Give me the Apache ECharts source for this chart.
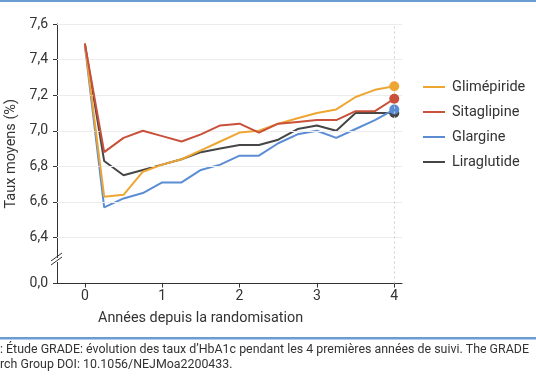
<!DOCTYPE html>
<html><head><meta charset="utf-8">
<script src="https://cdn.jsdelivr.net/npm/echarts@6/dist/echarts.min.js"></script>
<style>html,body{margin:0;padding:0;background:#fff}#c{width:536px;height:386px}</style>
</head><body><div id="c"></div>
<script>
// Years since randomisation (quarterly)
var years = [0,0.25,0.5,0.75,1,1.25,1.5,1.75,2,2.25,2.5,2.75,3,3.25,3.5,3.75,4];
var glimepiride = [7.49,6.63,6.64,6.77,6.81,6.84,6.89,6.94,6.99,7.00,7.04,7.07,7.10,7.12,7.19,7.23,7.25];
var sitaglipine = [7.49,6.88,6.96,7.00,6.97,6.94,6.98,7.03,7.04,6.99,7.04,7.05,7.06,7.06,7.11,7.11,7.18];
var glargine    = [7.48,6.57,6.62,6.65,6.71,6.71,6.78,6.81,6.86,6.86,6.93,6.98,7.00,6.96,7.01,7.06,7.12];
var liraglutide = [7.49,6.83,6.75,6.78,6.81,6.84,6.88,6.90,6.92,6.92,6.95,7.01,7.03,7.00,7.10,7.10,7.10];
var seriesNames = ['Glimépiride','Sitaglipine','Glargine','Liraglutide'];
var yTicks = [6.4,6.6,6.8,7.0,7.2,7.4,7.6];
var yBreakValue = 6.142; // position where "0,0" is drawn (broken axis)
var xTicks = [0,1,2,3,4];
var colors = {'Glimépiride':'#EEA633','Sitaglipine':'#C9503A','Glargine':'#5B8DD5','Liraglutide':'#464646'};

function pairs(arr){ return years.map(function(x,i){ return [x, arr[i]]; }); }
var dataMap = {'Glimépiride':glimepiride,'Sitaglipine':sitaglipine,'Glargine':glargine,'Liraglutide':liraglutide};
var drawOrder = ['Liraglutide','Glargine','Glimépiride','Sitaglipine'];
var FONT = 'Roboto, "Noto Sans", sans-serif';

var series = drawOrder.map(function(n, k){
  return {
    name: n, type: 'line', data: pairs(dataMap[n]),
    color: colors[n],
    lineStyle: {width: 2, color: colors[n]},
    itemStyle: {color: colors[n]},
    symbol: 'circle', showSymbol: true, showAllSymbol: true,
    symbolSize: function(v, p){ return p.dataIndex === years.length - 1 ? 10 : 0; },
    z: 3 + k, emphasis: {disabled: true}, animation: false
  };
});
// grid lines + vertical dashed line at year 4
series.unshift({
  type: 'line', data: [], silent: true, animation: false,
  markLine: {
    silent: true, symbol: 'none', label: {show: false}, animation: false,
    data: yTicks.map(function(v){ return {yAxis: v, lineStyle: {color: '#ececec', width: 1, type: 'solid'}}; })
      .concat([{xAxis: 4, lineStyle: {color: '#cfcfcf', width: 1, type: [2,3]}}])
  }
});

var chart = echarts.init(document.getElementById('c'), null, {renderer: 'canvas'});
chart.setOption({
  animation: false,
  textStyle: {fontFamily: FONT},
  grid: {left: 57, right: 134, top: 24, bottom: 102.5, containLabel: false, outerBoundsMode: 'none'},
  xAxis: {
    type: 'value', min: -0.36, max: 4.1,
    axisLine: {show: true, onZero: false, lineStyle: {color: '#333', width: 1}},
    axisTick: {show: true, length: 4, inside: false, lineStyle: {color: '#333'}, customValues: xTicks},
    axisLabel: {color: '#333', fontSize: 14, margin: 6, fontFamily: FONT, customValues: xTicks,
      formatter: function(v){ return String(v); }},
    splitLine: {show: false}
  },
  yAxis: {
    type: 'value', min: yBreakValue, max: 7.6,
    name: 'Taux moyens (%)', nameLocation: 'middle', nameGap: 37,
    nameTextStyle: {color: '#333', fontSize: 14.5, fontFamily: FONT},
    axisLine: {show: true, onZero: false, lineStyle: {color: '#333', width: 1}},
    axisTick: {show: true, length: 4, lineStyle: {color: '#333'}, customValues: [yBreakValue].concat(yTicks)},
    axisLabel: {color: '#333', fontSize: 14, margin: 9, fontFamily: FONT,
      customValues: [yBreakValue].concat(yTicks),
      formatter: function(v){ return v < 6.3 ? '0,0' : v.toFixed(1).replace('.', ','); }},
    splitLine: {show: false}
  },
  legend: {
    orient: 'vertical', left: 418, top: 74,
    data: seriesNames, icon: 'rect', itemWidth: 22, itemHeight: 2, itemGap: 9,
    textStyle: {color: '#333', fontSize: 14.5, lineHeight: 16, fontFamily: FONT, padding: [0,0,0,2]},
    selectedMode: false
  },
  series: series,
  graphic: [
    {type: 'rect', shape: {x: 0, y: 0, width: 536, height: 2}, style: {fill: '#6A9BD2'}},
    {type: 'rect', shape: {x: 0, y: 337, width: 536, height: 2.5}, style: {fill: '#6A9BD2'}},
    // axis break marker
    {type: 'rect', shape: {x: 54, y: 258, width: 6, height: 4}, style: {fill: '#fff'}, z: 100},
    {type: 'line', shape: {x1: 51, y1: 261, x2: 62, y2: 253}, style: {stroke: '#333', lineWidth: 1}, z: 101},
    {type: 'line', shape: {x1: 51, y1: 265, x2: 62, y2: 257}, style: {stroke: '#333', lineWidth: 1}, z: 101},
    {type: 'text', left: 98, top: 311, style: {text: 'Années depuis la randomisation', fill: '#333', font: '14.4px ' + FONT}},
    {type: 'text', left: 0, top: 344, style: {text: ': Étude GRADE: évolution des taux d\u2019HbA1c pendant les 4 premières années de suivi. The GRADE', fill: '#333', font: '12.4px ' + FONT}},
    {type: 'text', left: 0, top: 359, style: {text: 'rch Group DOI: 10.1056/NEJMoa2200433.', fill: '#333', font: '12.4px ' + FONT}}
  ]
});
</script></body></html>
